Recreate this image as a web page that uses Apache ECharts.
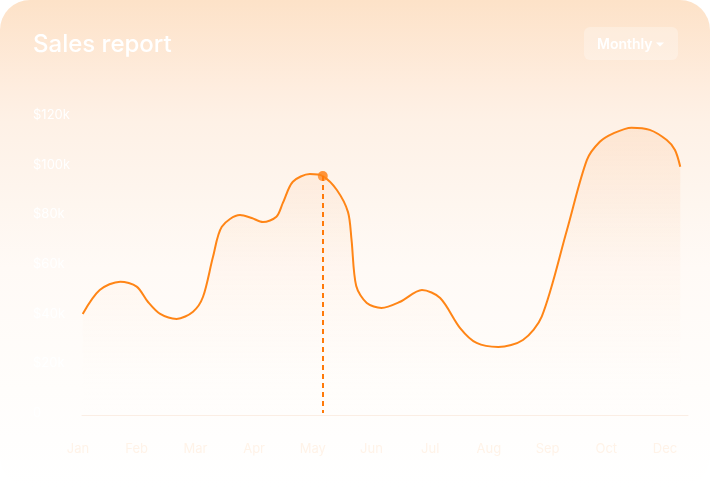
<!DOCTYPE html>
<html>
<head>
<meta charset="utf-8">
<script src="https://cdn.jsdelivr.net/npm/echarts@6/dist/echarts.min.js"></script>
<style>
html,body{margin:0;padding:0;background:#ffffff;width:710px;height:487px;overflow:hidden;}
#card{position:absolute;left:0;top:0;width:710px;height:487px;border-radius:30px;
background:linear-gradient(180deg,#fde2c8 0%,#feeddf 18%,#fef1e6 25%,#fef6ef 42%,#fffaf6 55%,#fffdfb 80%,#ffffff 100%);}
#chart{position:absolute;left:0;top:0;width:710px;height:487px;}
</style>
</head>
<body>
<div id="card"></div>
<div id="chart"></div>
<script>
// x tick labels (as shown in the reference)
const monthLabels = ['Jan','Feb','Mar','Apr','May','Jun','Jul','Aug','Sep','Oct','Dec'];
// positions along the month axis (fractional month index)
const xPos = [0.08,0.37,0.72,1.0,1.19,1.40,1.68,1.96,2.13,2.30,2.45,2.76,2.96,3.15,3.38,3.49,3.66,3.95,4.17,4.41,4.60,4.66,4.74,4.92,5.17,5.49,5.86,6.17,6.51,6.79,7.16,7.58,7.90,8.33,8.67,8.89,9.12,9.43,9.74,10.03,10.17,10.26];
// sales values in $k
const sales = [39.9,49.5,52.9,50.9,44.8,39.9,37.9,40.8,46.8,62.9,75.0,79.7,78.5,76.9,79.0,84.6,93.1,96.2,95.4,89.8,80.9,69.7,51.1,44.3,42.3,44.8,49.5,46.3,34.2,28.2,26.6,29.4,38.8,73.7,101.9,109.2,112.6,114.9,114.0,109.9,105.9,99.2];
const highlightIndex = 18;

const chart = echarts.init(document.getElementById('chart'), null, {renderer:'canvas'});
const lineData = xPos.map((x,i)=>[x, sales[i]]);
const hp = lineData[highlightIndex];

chart.setOption({
  backgroundColor:'transparent',
  animation:false,
  title:{text:'Sales report',left:33,top:33,padding:0,textStyle:{color:'#ffffff',fontSize:24,fontWeight:500,fontFamily:'Inter'}},
  graphic:[
    {type:'rect',left:584,top:27,shape:{width:94,height:33,r:6},style:{fill:'rgba(255,255,255,0.28)'}},
    {type:'text',left:597,top:38,style:{text:'Monthly',fill:'#ffffff',font:'600 14px Inter'}},
    {type:'polygon',shape:{points:[[656,42.5],[664,42.5],[660,46.5]]},style:{fill:'#ffffff'}}
  ],
  grid:[
    {left:78,right:27.4,top:115,bottom:74},
    {left:82,right:22,top:115,bottom:72}
  ],
  xAxis:[
    {type:'value',gridIndex:0,min:0,max:10.3,interval:1,
     axisLine:{show:false},axisTick:{show:false},splitLine:{show:false},
     axisLabel:{margin:30,color:'#fff3e8',fontSize:13,fontFamily:'Inter',showMaxLabel:false,
       formatter:(v)=>Number.isInteger(v)?(monthLabels[v]||''):''}},
    {type:'value',gridIndex:1,min:0,max:1,
     axisLine:{show:true,lineStyle:{color:'#fbeee4',width:1}},axisTick:{show:false},
     axisLabel:{show:false},splitLine:{show:false}}
  ],
  yAxis:[
    {type:'value',gridIndex:0,min:0,max:120,interval:20,
     axisLine:{show:false},axisTick:{show:false},splitLine:{show:false},
     axisLabel:{align:'left',margin:45,color:'#ffffff',fontSize:13,fontFamily:'Inter',
       formatter:(v)=>v===0?'0':'$'+v+'k'}},
    {type:'value',gridIndex:1,min:0,max:1,show:false}
  ],
  series:[
    {type:'line',xAxisIndex:0,yAxisIndex:0,data:lineData,smooth:0.3,showSymbol:false,
     lineStyle:{color:'#ff8516',width:2},
     areaStyle:{color:new echarts.graphic.LinearGradient(0,0,0,1,[
        {offset:0,color:'rgba(253,190,140,0.32)'},
        {offset:0.6,color:'rgba(254,225,200,0.12)'},
        {offset:1,color:'rgba(255,255,255,0)'}])}},
    {type:'scatter',xAxisIndex:0,yAxisIndex:0,data:[hp],symbolSize:10,
     itemStyle:{color:'#ff7a0a'},
     markLine:{silent:true,symbol:['none','none'],label:{show:false},
       lineStyle:{color:'#ff7a0a',type:[5,4],width:2},
       data:[[{coord:[hp[0],hp[1]]},{coord:[hp[0],0]}]]}}
  ]
});
</script>
</body>
</html>
